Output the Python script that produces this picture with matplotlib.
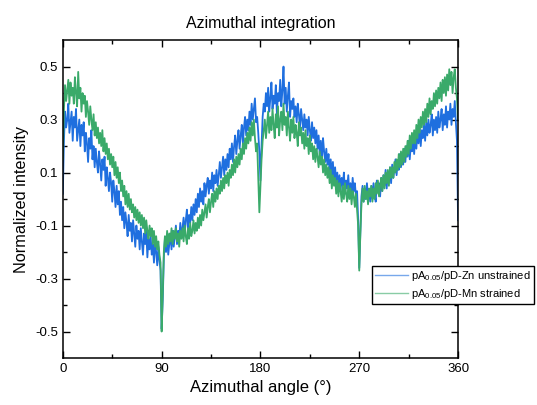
import numpy as np
import matplotlib
matplotlib.use('Agg')
import matplotlib.pyplot as plt

plt.rcParams['font.family'] = ['Liberation Sans', 'DejaVu Sans']
plt.rcParams['mathtext.fontset'] = 'custom'
plt.rcParams['mathtext.rm'] = 'Liberation Sans'
plt.rcParams['mathtext.it'] = 'Liberation Sans:italic'
plt.rcParams['axes.unicode_minus'] = False

# azimuthal angle, every degree
angle = np.arange(0, 361, 1)

# pA0.05/pD-Zn unstrained (one row = 10 degrees)
unstrained = [
    0.02, 0.22, 0.33, 0.27, 0.30, 0.36, 0.25, 0.29, 0.33, 0.22,
    0.31, 0.27, 0.34, 0.22, 0.26, 0.30, 0.20, 0.28, 0.24, 0.29,
    0.18, 0.25, 0.21, 0.14, 0.23, 0.19, 0.26, 0.15, 0.20, 0.12,
    0.19, 0.14, 0.10, 0.18, 0.13, 0.07, 0.15, 0.11, 0.16, 0.05,
    0.12, 0.08, 0.03, 0.10, 0.06, -0.01, 0.07, 0.03, -0.03, 0.05,
    -0.02, 0.03, -0.06, -0.01, -0.08, -0.03, -0.11, -0.05, -0.09, -0.14,
    -0.06, -0.12, -0.09, -0.16, -0.08, -0.13, -0.18, -0.10, -0.15, -0.12,
    -0.19, -0.11, -0.16, -0.21, -0.13, -0.17, -0.12, -0.22, -0.15, -0.19,
    -0.14, -0.21, -0.17, -0.24, -0.16, -0.20, -0.25, -0.18, -0.23, -0.27,
    -0.49, -0.38, -0.22, -0.15, -0.20, -0.14, -0.21, -0.17, -0.13, -0.19,
    -0.12, -0.18, -0.14, -0.10, -0.17, -0.12, -0.15, -0.09, -0.14, -0.11,
    -0.07, -0.13, -0.08, -0.04, -0.11, -0.06, -0.09, -0.03, -0.08, -0.02,
    -0.06, 0.00, -0.05, 0.02, -0.03, 0.04, -0.01, 0.03, -0.02, 0.06,
    0.01, 0.05, 0.08, 0.02, 0.07, 0.04, 0.10, 0.03, 0.09, 0.06,
    0.11, 0.05, 0.09, 0.14, 0.08, 0.12, 0.16, 0.09, 0.15, 0.11,
    0.17, 0.12, 0.19, 0.15, 0.21, 0.14, 0.20, 0.24, 0.17, 0.22,
    0.26, 0.19, 0.24, 0.28, 0.21, 0.27, 0.31, 0.24, 0.30, 0.26,
    0.33, 0.28, 0.36, 0.30, 0.34, 0.38, 0.29, 0.31, 0.25, 0.18,
    0.07, 0.20, 0.31, 0.36, 0.33, 0.40, 0.35, 0.42, 0.33, 0.38,
    0.44, 0.34, 0.39, 0.36, 0.43, 0.32, 0.40, 0.37, 0.45, 0.35,
    0.41, 0.50, 0.36, 0.42, 0.33, 0.39, 0.44, 0.31, 0.37, 0.34,
    0.38, 0.31, 0.35, 0.29, 0.36, 0.32, 0.27, 0.34, 0.30, 0.26,
    0.32, 0.27, 0.30, 0.24, 0.31, 0.26, 0.22, 0.29, 0.23, 0.27,
    0.21, 0.26, 0.19, 0.24, 0.17, 0.22, 0.15, 0.23, 0.18, 0.14,
    0.19, 0.13, 0.17, 0.10, 0.15, 0.09, 0.14, 0.07, 0.12, 0.06,
    0.10, 0.04, 0.09, 0.03, 0.08, 0.05, 0.10, 0.02, 0.07, 0.04,
    0.09, 0.02, 0.06, 0.01, 0.08, 0.03, 0.06, 0.01, 0.03, -0.08,
    -0.26, -0.12, 0.01, 0.05, -0.01, 0.04, 0.00, 0.06, 0.01, 0.03,
    -0.01, 0.05, 0.00, 0.06, 0.02, -0.01, 0.07, 0.03, 0.06, 0.01,
    0.08, 0.03, 0.09, 0.05, 0.11, 0.04, 0.10, 0.07, 0.12, 0.06,
    0.13, 0.08, 0.11, 0.15, 0.09, 0.14, 0.11, 0.17, 0.12, 0.16,
    0.13, 0.19, 0.14, 0.20, 0.16, 0.22, 0.15, 0.21, 0.18, 0.23,
    0.17, 0.24, 0.19, 0.25, 0.21, 0.27, 0.20, 0.26, 0.23, 0.28,
    0.22, 0.29, 0.24, 0.30, 0.25, 0.28, 0.32, 0.24, 0.30, 0.26,
    0.31, 0.25, 0.33, 0.27, 0.30, 0.34, 0.26, 0.32, 0.28, 0.35,
    0.27, 0.33, 0.30, 0.36, 0.28, 0.34, 0.31, 0.37, 0.29, 0.22,
    -0.08,
]

# pA0.05/pD-Mn strained (one row = 10 degrees)
strained = [
    0.15, 0.34, 0.43, 0.37, 0.41, 0.45, 0.36, 0.44, 0.39, 0.42,
    0.36, 0.46, 0.40, 0.35, 0.48, 0.38, 0.42, 0.33, 0.40, 0.36,
    0.39, 0.31, 0.37, 0.33, 0.28, 0.35, 0.30, 0.26, 0.32, 0.24,
    0.29, 0.23, 0.27, 0.21, 0.25, 0.20, 0.26, 0.18, 0.23, 0.17,
    0.21, 0.15, 0.19, 0.13, 0.17, 0.12, 0.16, 0.09, 0.14, 0.08,
    0.12, 0.06, 0.10, 0.03, 0.07, 0.01, 0.05, -0.02, 0.03, -0.03,
    0.02, -0.04, 0.00, -0.05, -0.02, -0.07, -0.03, -0.08, -0.04, -0.09,
    -0.05, -0.10, -0.06, -0.11, -0.07, -0.13, -0.08, -0.12, -0.15, -0.10,
    -0.14, -0.11, -0.17, -0.12, -0.18, -0.14, -0.19, -0.16, -0.21, -0.24,
    -0.50, -0.36, -0.20, -0.14, -0.18, -0.12, -0.17, -0.13, -0.16, -0.11,
    -0.17, -0.12, -0.15, -0.11, -0.16, -0.13, -0.18, -0.12, -0.15, -0.11,
    -0.16, -0.10, -0.14, -0.17, -0.11, -0.15, -0.09, -0.14, -0.12, -0.08,
    -0.13, -0.09, -0.12, -0.07, -0.11, -0.06, -0.10, -0.04, -0.08, -0.05,
    -0.02, -0.07, -0.03, 0.00, -0.05, -0.01, 0.02, -0.03, 0.03, -0.01,
    0.04, 0.00, 0.05, 0.02, 0.07, 0.03, 0.08, 0.04, 0.09, 0.06,
    0.10, 0.05, 0.11, 0.08, 0.13, 0.09, 0.15, 0.10, 0.16, 0.12,
    0.17, 0.13, 0.19, 0.15, 0.21, 0.17, 0.23, 0.19, 0.25, 0.21,
    0.27, 0.22, 0.29, 0.24, 0.30, 0.23, 0.18, 0.21, 0.08, -0.05,
    0.05, 0.15, 0.22, 0.26, 0.30, 0.23, 0.28, 0.33, 0.25, 0.31,
    0.26, 0.34, 0.28, 0.23, 0.32, 0.27, 0.35, 0.24, 0.30, 0.33,
    0.26, 0.36, 0.28, 0.31, 0.24, 0.33, 0.27, 0.22, 0.30, 0.25,
    0.31, 0.23, 0.28, 0.25, 0.20, 0.29, 0.24, 0.27, 0.21, 0.25,
    0.19, 0.26, 0.20, 0.23, 0.17, 0.24, 0.18, 0.21, 0.15, 0.20,
    0.14, 0.19, 0.16, 0.12, 0.18, 0.13, 0.16, 0.10, 0.15, 0.09,
    0.13, 0.08, 0.12, 0.06, 0.11, 0.04, 0.09, 0.05, 0.08, 0.02,
    0.07, 0.01, 0.06, 0.03, -0.01, 0.05, 0.00, 0.06, 0.02, -0.01,
    0.05, 0.00, 0.04, -0.02, 0.03, 0.01, -0.03, 0.02, -0.04, -0.10,
    -0.27, -0.13, -0.02, 0.04, -0.01, 0.05, 0.00, 0.03, -0.02, 0.04,
    0.01, 0.05, -0.01, 0.04, 0.00, 0.06, 0.02, 0.07, 0.01, 0.05,
    0.08, 0.03, 0.09, 0.04, 0.10, 0.06, 0.11, 0.05, 0.12, 0.08,
    0.12, 0.08, 0.14, 0.10, 0.15, 0.11, 0.17, 0.12, 0.18, 0.13,
    0.19, 0.14, 0.20, 0.16, 0.22, 0.17, 0.24, 0.19, 0.25, 0.21,
    0.26, 0.21, 0.28, 0.23, 0.30, 0.25, 0.31, 0.27, 0.33, 0.28,
    0.34, 0.29, 0.36, 0.31, 0.38, 0.32, 0.37, 0.34, 0.40, 0.35,
    0.41, 0.36, 0.42, 0.38, 0.44, 0.37, 0.45, 0.40, 0.46, 0.39,
    0.47, 0.41, 0.49, 0.43, 0.48, 0.40, 0.46, 0.49, 0.42, 0.38,
    0.30,
]

labels = [r'pA$_{0.05}$/pD-Zn unstrained', r'pA$_{0.05}$/pD-Mn strained']
colors = ['#1f6fdf', '#3aaa6a']

fig = plt.figure(figsize=(5.37, 4.05), dpi=100)
ax = fig.add_axes([0.117, 0.116, 0.736, 0.785])

ax.plot(angle, unstrained, color=colors[0], linewidth=1.3, label=labels[0])
ax.plot(angle, strained, color=colors[1], linewidth=1.3, label=labels[1])

ax.set_xlim(0, 360)
ax.set_ylim(-0.6, 0.6)
ax.set_xticks([0, 90, 180, 270, 360])
ax.set_xticks([45, 135, 225, 315], minor=True)
ax.set_yticks([-0.5, -0.3, -0.1, 0.1, 0.3, 0.5])
ax.set_yticks([-0.4, -0.2, 0.0, 0.2, 0.4], minor=True)
ax.tick_params(axis='both', which='both', direction='in', top=True, right=True,
               labelsize=9.5, width=1)
ax.tick_params(which='major', length=5)
ax.tick_params(which='minor', length=3)
for s in ax.spines.values():
    s.set_linewidth(1.1)

ax.set_title("Azimuthal integration", fontsize=11.5, pad=9)
ax.set_xlabel("Azimuthal angle (°)", fontsize=12)
ax.set_ylabel("Normalized intensity", fontsize=11.7)

leg = ax.legend(loc='upper left', bbox_to_anchor=(372 / 537, 1 - 266 / 405),
                bbox_transform=fig.transFigure, fontsize=8, frameon=True,
                fancybox=False, framealpha=1, handlelength=2.9, borderpad=0.3,
                labelspacing=0.3, handletextpad=0.3, borderaxespad=0)
leg.get_frame().set_edgecolor('black')
leg.get_frame().set_linewidth(1)
for line in leg.get_lines():
    line.set_linewidth(1.0)
    line.set_alpha(0.6)

plt.savefig('out.png', dpi=100)
